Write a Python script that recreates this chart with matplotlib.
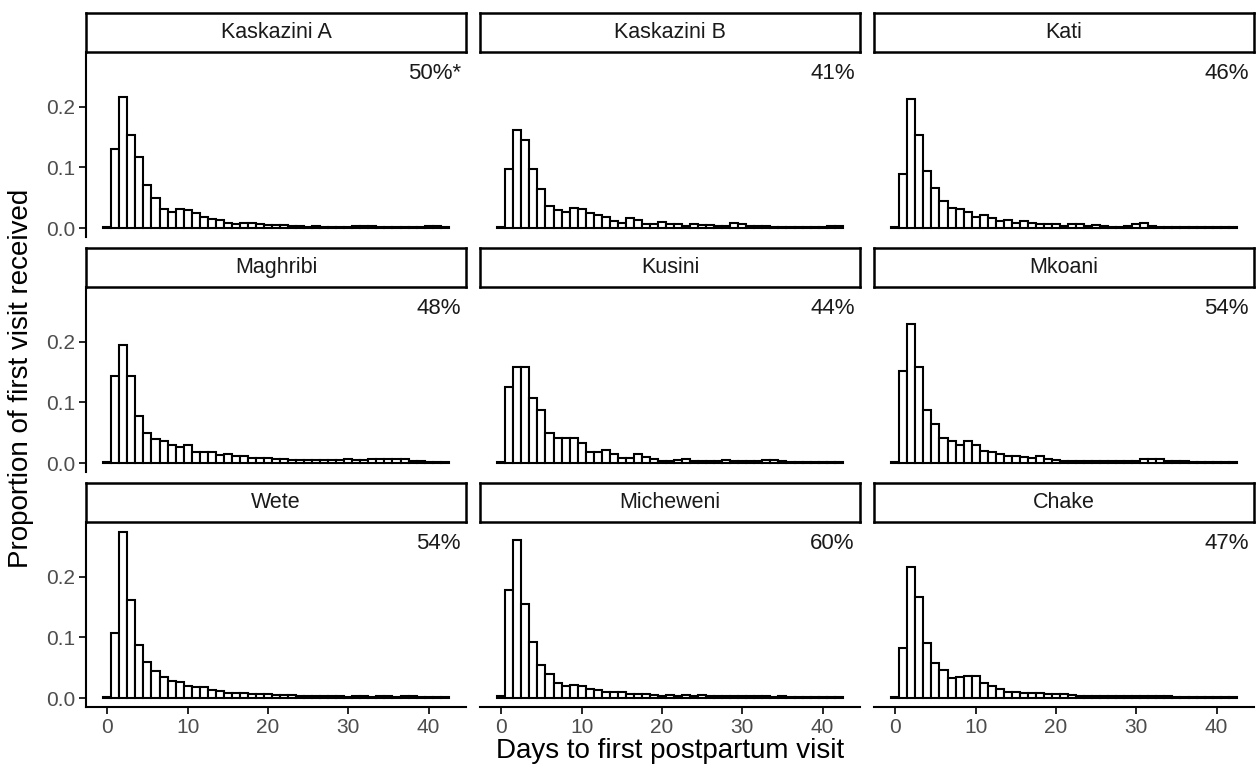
import numpy as np
import matplotlib
matplotlib.use("Agg")
import matplotlib.pyplot as plt

plt.rcParams['font.family'] = ['Liberation Sans', 'DejaVu Sans']

districts = ["Kaskazini A", "Kaskazini B", "Kati",
             "Maghribi", "Kusini", "Mkoani",
             "Wete", "Micheweni", "Chake"]
pct_labels = ["50%*", "41%", "46%", "48%", "44%", "54%", "54%", "60%", "47%"]
days = np.arange(0, 43)

kaskazini_a = [0.002, 0.130, 0.217, 0.153, 0.117, 0.071, 0.050, 0.031, 0.026, 0.032,
               0.029, 0.025, 0.019, 0.015, 0.013, 0.009, 0.006, 0.008, 0.008, 0.006,
               0.005, 0.005, 0.005, 0.003, 0.003, 0.002, 0.003, 0.002, 0.002, 0.002,
               0.002, 0.003, 0.003, 0.003, 0.002, 0.002, 0.002, 0.002, 0.002, 0.002,
               0.003, 0.003, 0.002]
kaskazini_b = [0.002, 0.098, 0.162, 0.145, 0.097, 0.064, 0.037, 0.030, 0.026, 0.033,
               0.032, 0.024, 0.022, 0.019, 0.012, 0.008, 0.016, 0.013, 0.007, 0.007,
               0.010, 0.006, 0.006, 0.004, 0.006, 0.005, 0.005, 0.004, 0.003, 0.009,
               0.006, 0.003, 0.003, 0.003, 0.002, 0.002, 0.002, 0.002, 0.002, 0.002,
               0.002, 0.003, 0.003]
kati = [0.002, 0.089, 0.213, 0.154, 0.094, 0.066, 0.045, 0.033, 0.032, 0.026,
        0.019, 0.021, 0.016, 0.012, 0.014, 0.009, 0.011, 0.009, 0.006, 0.007,
        0.006, 0.004, 0.007, 0.006, 0.003, 0.005, 0.003, 0.002, 0.002, 0.003,
        0.007, 0.009, 0.003, 0.002, 0.002, 0.002, 0.002, 0.002, 0.002, 0.002,
        0.002, 0.002, 0.002]
maghribi = [0.002, 0.144, 0.195, 0.144, 0.078, 0.050, 0.040, 0.036, 0.030, 0.026,
            0.029, 0.018, 0.018, 0.018, 0.013, 0.015, 0.011, 0.011, 0.008, 0.008,
            0.008, 0.007, 0.006, 0.005, 0.005, 0.005, 0.005, 0.005, 0.005, 0.005,
            0.006, 0.005, 0.005, 0.007, 0.006, 0.007, 0.006, 0.006, 0.003, 0.003,
            0.002, 0.002, 0.002]
kusini = [0.002, 0.126, 0.159, 0.159, 0.108, 0.088, 0.050, 0.041, 0.041, 0.041,
          0.033, 0.019, 0.018, 0.022, 0.015, 0.009, 0.009, 0.015, 0.010, 0.006,
          0.004, 0.004, 0.005, 0.006, 0.004, 0.003, 0.003, 0.004, 0.005, 0.004,
          0.003, 0.003, 0.004, 0.005, 0.005, 0.003, 0.002, 0.002, 0.002, 0.002,
          0.002, 0.002, 0.002]
mkoani = [0.002, 0.152, 0.229, 0.159, 0.088, 0.065, 0.042, 0.036, 0.029, 0.036,
          0.030, 0.020, 0.018, 0.015, 0.012, 0.012, 0.010, 0.008, 0.011, 0.006,
          0.005, 0.004, 0.004, 0.003, 0.003, 0.003, 0.003, 0.003, 0.003, 0.003,
          0.003, 0.006, 0.006, 0.006, 0.003, 0.003, 0.003, 0.002, 0.002, 0.002,
          0.002, 0.002, 0.002]
wete = [0.002, 0.108, 0.274, 0.162, 0.088, 0.060, 0.044, 0.035, 0.028, 0.026,
        0.020, 0.018, 0.018, 0.014, 0.011, 0.009, 0.008, 0.008, 0.007, 0.006,
        0.006, 0.005, 0.005, 0.005, 0.003, 0.004, 0.004, 0.004, 0.003, 0.003,
        0.002, 0.003, 0.003, 0.002, 0.003, 0.003, 0.002, 0.003, 0.003, 0.002,
        0.002, 0.002, 0.002]
micheweni = [0.004, 0.178, 0.261, 0.155, 0.093, 0.055, 0.040, 0.025, 0.020, 0.022,
             0.020, 0.015, 0.013, 0.010, 0.010, 0.010, 0.006, 0.007, 0.006, 0.005,
             0.004, 0.005, 0.004, 0.005, 0.004, 0.005, 0.004, 0.004, 0.003, 0.003,
             0.003, 0.004, 0.003, 0.003, 0.002, 0.003, 0.002, 0.002, 0.002, 0.002,
             0.002, 0.002, 0.002]
chake = [0.002, 0.083, 0.217, 0.167, 0.090, 0.058, 0.046, 0.033, 0.035, 0.036,
         0.036, 0.025, 0.020, 0.015, 0.010, 0.010, 0.008, 0.008, 0.008, 0.006,
         0.007, 0.006, 0.005, 0.004, 0.004, 0.003, 0.003, 0.003, 0.003, 0.003,
         0.003, 0.004, 0.004, 0.003, 0.003, 0.002, 0.002, 0.002, 0.002, 0.002,
         0.002, 0.002, 0.002]

series = [kaskazini_a, kaskazini_b, kati, maghribi, kusini, mkoani,
          wete, micheweni, chake]

W, H = 1258, 770
fig = plt.figure(figsize=(W / 100, H / 100), dpi=100)

col_left = [86, 480, 874]
panel_w = 380
row_top = [52, 287, 522]
panel_h = 185
strip_h = 39
grey = "#4D4D4D"

for i, (name, vals, lab) in enumerate(zip(districts, series, pct_labels)):
    r, c = divmod(i, 3)
    x0, y0 = col_left[c], row_top[r]
    ax = fig.add_axes([x0 / W, 1 - (y0 + panel_h) / H, panel_w / W, panel_h / H])
    ax.bar(days, vals, width=1.0, color="white", edgecolor="black", linewidth=1.5)
    ax.set_xlim(-2.65, 44.65)
    ax.set_ylim(-0.0148, 0.2905)
    ax.text(44, 0.255, lab, ha="right", va="center", fontsize=16, color="#1A1A1A")
    for s in ["top", "right"]:
        ax.spines[s].set_visible(False)
    ax.spines["left"].set_linewidth(1.5)
    ax.spines["bottom"].set_linewidth(1.5)
    ax.tick_params(colors="black", labelcolor=grey, labelsize=15,
                   width=1.2, length=5, pad=3)
    ax.set_yticks([0.0, 0.1, 0.2])
    ax.set_yticklabels(["0.0", "0.1", "0.2"])
    ax.set_xticks([0, 10, 20, 30, 40])
    if c != 0:
        ax.spines["left"].set_visible(False)
        ax.tick_params(axis="y", left=False, labelleft=False)
    if r != 2:
        ax.spines["bottom"].set_visible(False)
        ax.tick_params(axis="x", bottom=False, labelbottom=False)

    sax = fig.add_axes([x0 / W, 1 - y0 / H, panel_w / W, strip_h / H])
    sax.set_xticks([])
    sax.set_yticks([])
    for s in sax.spines.values():
        s.set_linewidth(1.8)
        s.set_color("black")
    sax.text(0.5, 0.5, name, ha="center", va="center", fontsize=15.5,
             color="#1A1A1A", transform=sax.transAxes)

fig.text(670 / W, 1 - 751 / H, "Days to first postpartum visit",
         ha="center", va="center", fontsize=20)
fig.text(21 / W, 1 - 378 / H, "Proportion of first visit received",
         ha="center", va="center", rotation=90, fontsize=20)

fig.savefig("out.png", dpi=100)
